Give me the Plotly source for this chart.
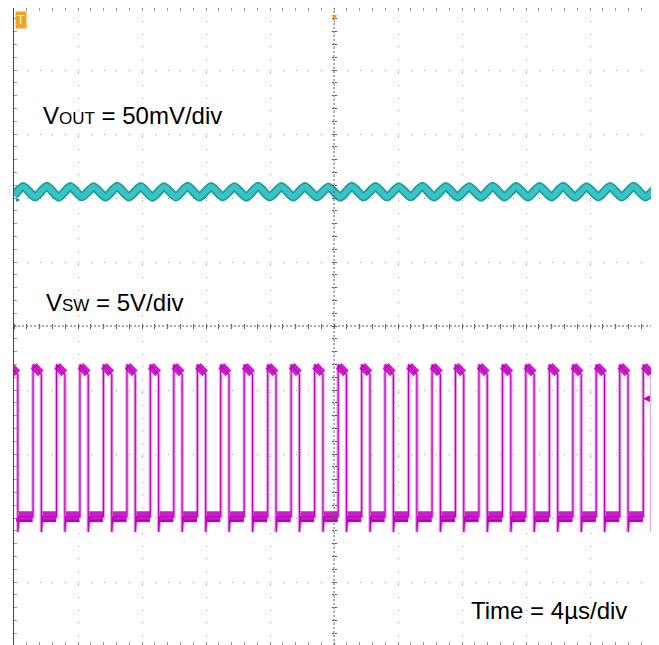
import plotly.graph_objects as go

# ---------------- data ----------------
# switching node (CH2): rising-edge times in microseconds
sw_rise_us = [-20.28, -18.81, -17.34, -15.88, -14.41, -12.94, -11.48, -10.01,
              -8.54, -7.08, -5.61, -4.14, -2.68, -1.21, 0.26, 1.73, 3.19,
              4.66, 6.13, 7.59, 9.06, 10.53, 11.99, 13.46, 14.93, 16.39,
              17.86, 19.33]
sw_pulse_width_us = 0.52
sw_high_start_v = 12.0
sw_high_end_v = 11.2
sw_low_v = 0.1
sw_undershoot_v = -1.1
sw_undershoot_len_us = 0.08

# output ripple (CH1): vertices (time us, mV relative to channel marker)
vout_t_us = [-20.0, -19.42, -18.68, -17.95, -17.21, -16.48, -15.75, -15.02,
             -14.28, -13.55, -12.81, -12.08, -11.35, -10.62, -9.88, -9.15,
             -8.41, -7.68, -6.95, -6.22, -5.48, -4.75, -4.01, -3.28, -2.55,
             -1.82, -1.08, -0.35, 0.39, 1.12, 1.86, 2.59, 3.32, 4.05, 4.79,
             5.52, 6.26, 6.99, 7.72, 8.45, 9.19, 9.92, 10.66, 11.39, 12.12,
             12.85, 13.59, 14.32, 15.06, 15.79, 16.52, 17.25, 17.99, 18.72,
             19.46, 20.19]
vout_mv = [2.0, 9.0, 0.8, 9.2, 0.6, 9.0, 0.9, 8.8, 0.7, 9.1, 0.8, 9.0, 0.6,
           8.9, 0.8, 9.2, 0.7, 9.0, 0.9, 8.8, 0.6, 9.1, 0.8, 9.0, 0.7, 9.0,
           0.8, 8.7, 0.6, 9.1, 0.8, 9.0, 0.7, 8.9, 0.9, 9.2, 0.7, 9.0, 0.8,
           8.8, 0.6, 9.1, 0.8, 9.0, 0.7, 9.0, 0.8, 9.1, 0.6, 8.9, 0.8, 9.0,
           0.7, 9.2, 0.8, 9.0]

vout_scale_mv_per_div = 50
vout_offset_div = 2.0
sw_scale_v_per_div = 5
sw_offset_div = -3.0
trigger_level_v = 9.4
trigger_time_us = 0.0
time_per_div_us = 4

label_vout = "V<span style='font-size:17px'>OUT</span> = 50mV/div"
label_sw = "V<span style='font-size:17px'>SW</span> = 5V/div"
label_time = "Time = 4µs/div"

# ---------------- derived geometry ----------------
X_RANGE = [-20, 20]
Y_RANGE = [-4.984, 4.969]


def sw_div(v):
    return sw_offset_div + v / sw_scale_v_per_div


def vout_div(mv):
    return vout_offset_div + mv / vout_scale_mv_per_div


# switching-node polyline
sw_x, sw_y = [], []
for r in sw_rise_us:
    f = r + sw_pulse_width_us
    sw_x += [r, r, f, f, f + sw_undershoot_len_us]
    sw_y += [sw_div(sw_low_v), sw_div(sw_high_start_v), sw_div(sw_high_end_v),
             sw_div(sw_undershoot_v), sw_div(sw_low_v)]
sw_x.append(X_RANGE[1])
sw_y.append(sw_div(sw_low_v))

# high / low noise bands
hi_x, hi_y, lo_x, lo_y, dk_x, dk_y = [], [], [], [], [], []
for i, r in enumerate(sw_rise_us):
    f = r + sw_pulse_width_us
    hi_x += [r + 0.03, f - 0.03, None]
    hi_y += [sw_div(sw_high_start_v) - 0.02, sw_div(sw_high_end_v) + 0.02, None]
    nxt = sw_rise_us[i + 1] if i + 1 < len(sw_rise_us) else X_RANGE[1] + 1
    lo_x += [f + 0.06, nxt - 0.02, None]
    lo_y += [sw_div(sw_low_v), sw_div(sw_low_v), None]
    dk_x += [f + 0.1, nxt - 0.05, None]
    dk_y += [sw_div(sw_low_v - 0.3), sw_div(sw_low_v - 0.3), None]

vy = [vout_div(v) for v in vout_mv]

fig = go.Figure()

# ripple trace
fig.add_trace(go.Scatter(x=vout_t_us, y=vy, mode="lines",
                         line=dict(color="#239c9c", width=9, shape="spline", smoothing=0.6),
                         hoverinfo="skip"))
fig.add_trace(go.Scatter(x=vout_t_us, y=vy, mode="lines",
                         line=dict(color="#38c4c4", width=5.5, shape="spline", smoothing=0.6),
                         hoverinfo="skip"))

# switching trace
fig.add_trace(go.Scatter(x=sw_x, y=sw_y, mode="lines",
                         line=dict(color="#e8a8e8", width=3.5), hoverinfo="skip"))
fig.add_trace(go.Scatter(x=hi_x, y=hi_y, mode="lines",
                         line=dict(color="#cc1fcc", width=8), hoverinfo="skip"))
fig.add_trace(go.Scatter(x=lo_x, y=lo_y, mode="lines",
                         line=dict(color="#c91fc9", width=11), hoverinfo="skip"))
fig.add_trace(go.Scatter(x=dk_x, y=dk_y, mode="lines", opacity=0.55,
                         line=dict(color="#7a007a", width=2), hoverinfo="skip"))
fig.add_trace(go.Scatter(x=sw_x, y=sw_y, mode="lines",
                         line=dict(color="#c000c0", width=1.2), hoverinfo="skip"))

# dummy traces so the centre-tick axes render
for xa, ya in [("x2", "y"), ("x3", "y"), ("x", "y2"), ("x", "y3")]:
    fig.add_trace(go.Scatter(x=[0], y=[0], xaxis=xa, yaxis=ya, mode="markers",
                             marker=dict(opacity=0), hoverinfo="skip"))

grid_common = dict(showgrid=True, gridcolor="#9a9a9a", gridwidth=1,
                   griddash="1px,11.8px", zeroline=False, showticklabels=False,
                   ticks="inside", ticklen=3, tickcolor="#8a8a8a",
                   showline=True, mirror="allticks", linewidth=1, automargin=False)

# page body has an 8px default margin: size the figure so the plot lands
# where the reference graticule is
fig.update_layout(
    template="none",
    width=651, height=637,
    margin=dict(l=6, r=5, t=0, b=0, pad=0, autoexpand=False),
    plot_bgcolor="white", paper_bgcolor="white",
    showlegend=False,
    xaxis=dict(range=X_RANGE, dtick=time_per_div_us, tick0=0, linecolor="#202020",
               minor=dict(dtick=time_per_div_us / 5, ticks="inside", ticklen=3,
                          tickcolor="#9a9a9a", showgrid=False),
               **grid_common),
    yaxis=dict(range=Y_RANGE, dtick=1, tick0=0, linecolor="#454545",
               minor=dict(dtick=0.2, ticks="inside", ticklen=3,
                          tickcolor="#9a9a9a", showgrid=False),
               **grid_common),
)

ypos0 = (0 - Y_RANGE[0]) / (Y_RANGE[1] - Y_RANGE[0])
centre_tick = dict(showgrid=False, zeroline=False, showticklabels=False,
                   showline=False, ticks="outside", ticklen=2, tickcolor="#555555",
                   automargin=False)
fig.update_layout(
    xaxis2=dict(range=X_RANGE, overlaying="x", anchor="free", position=ypos0,
                side="bottom", dtick=time_per_div_us / 5, tick0=0, **centre_tick),
    xaxis3=dict(range=X_RANGE, overlaying="x", anchor="free", position=ypos0,
                side="top", dtick=time_per_div_us / 5, tick0=0, **centre_tick),
    yaxis2=dict(range=Y_RANGE, overlaying="y", anchor="free", position=0.5,
                side="left", dtick=0.2, tick0=0, **centre_tick),
    yaxis3=dict(range=Y_RANGE, overlaying="y", anchor="free", position=0.5,
                side="right", dtick=0.2, tick0=0, **centre_tick),
)

# centre lines
fig.add_shape(type="line", xref="x", yref="paper", x0=trigger_time_us, x1=trigger_time_us,
              y0=0, y1=1, line=dict(color="#606060", width=1, dash="2px,2px"))
fig.add_shape(type="line", xref="paper", yref="y", x0=0, x1=1, y0=0, y1=0,
              line=dict(color="#606060", width=1, dash="2px,2px"))

font = dict(family="Liberation Sans, Arial, sans-serif", size=24, color="black")
fig.add_annotation(text=label_vout, xref="paper", yref="paper", x=0.042, y=0.832,
                   xanchor="left", yanchor="middle", showarrow=False, font=font)
fig.add_annotation(text=label_sw, xref="paper", yref="paper", x=0.047, y=0.537,
                   xanchor="left", yanchor="middle", showarrow=False, font=font)
fig.add_annotation(text=label_time, xref="paper", yref="paper", x=0.711, y=0.054,
                   xanchor="left", yanchor="middle", showarrow=False, font=font)

# scope indicators
fig.add_annotation(text="T", xref="paper", yref="paper", x=0.002, y=0.981,
                   xanchor="left", yanchor="middle", showarrow=False,
                   font=dict(family="Liberation Sans, Arial", size=12, color="white"),
                   bgcolor="#f7a21e", borderpad=1)
fig.add_annotation(text="▼", xref="x", yref="paper", x=trigger_time_us, y=1.0,
                   xanchor="center", yanchor="top", showarrow=False,
                   font=dict(size=9, color="#f39a1a"))
fig.add_annotation(text="◀", xref="paper", yref="y", x=0.997, y=sw_div(trigger_level_v),
                   xanchor="right", yanchor="middle", showarrow=False,
                   font=dict(size=9, color="#c000c0"))
fig.add_annotation(text="▸", xref="paper", yref="y", x=0.0, y=vout_offset_div,
                   xanchor="left", yanchor="middle", showarrow=False,
                   font=dict(size=8, color="#128888"))
fig.add_annotation(text="▸", xref="paper", yref="y", x=0.0, y=sw_offset_div,
                   xanchor="left", yanchor="middle", showarrow=False,
                   font=dict(size=8, color="#c000c0"))

fig.write_html("out.html")
